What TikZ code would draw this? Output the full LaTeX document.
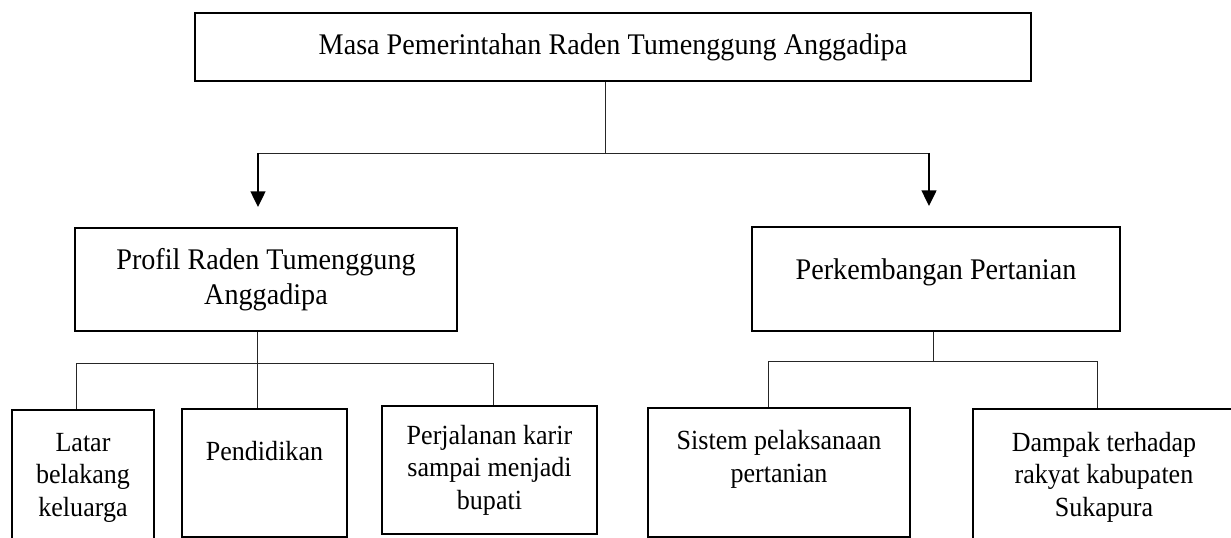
\documentclass[tikz,border=0pt]{standalone}
\usepackage{fontspec}
\setmainfont[FakeStretch=0.94]{Liberation Serif}
\usetikzlibrary{positioning, arrows.meta}

\begin{document}
\begin{tikzpicture}[
    x=0.025cm, y=-0.025cm,
    topbox/.style={rectangle, draw=black, line width=1.5pt, align=center, font=\fontsize{21.3}{25}\selectfont, inner sep=4pt},
    subbox/.style={rectangle, draw=black, line width=1.5pt, align=center, font=\fontsize{19.7}{23.1}\selectfont, inner sep=4pt},
    link/.style={draw=black!85, line width=0.7pt},
    arr/.style={-{Triangle[width=10.5pt, length=11pt]}, line width=1.3pt, draw=black, shorten >=0.5cm}
]
    \useasboundingbox (0,0) rectangle (1231,538);
    \clip (0,0) rectangle (1231,538);

    % top level
    \node[topbox, minimum width=20.9cm, minimum height=1.7cm] (root) at (613,47) {Masa Pemerintahan Raden Tumenggung Anggadipa};

    \node[topbox, minimum width=9.55cm, minimum height=2.575cm] (profil) at (266,279.5) {Profil Raden Tumenggung\\Anggadipa};
    \node[topbox, minimum width=9.2cm, minimum height=2.6cm, text depth=0.5cm] (tani) at (936,279) {Perkembangan Pertanian};

    % second level
    \node[subbox, minimum width=3.55cm, minimum height=3.375cm] (latar) at (83,477.5) {Latar\\belakang\\keluarga};
    \node[subbox, minimum width=4.125cm, minimum height=3.2cm] (didik) at (264.5,473) {Pendidikan\\[8pt]\mbox{}};
    \node[subbox, minimum width=5.375cm, minimum height=3.2cm] (karir) at (489.5,470) {Perjalanan karir\\sampai menjadi\\bupati};

    \node[subbox, minimum width=6.55cm, minimum height=3.225cm] (sistem) at (779,472.5) {Sistem pelaksanaan\\pertanian\\\mbox{}};
    \node[subbox, minimum width=6.55cm, minimum height=3.4cm] (dampak) at (1104,477) {Dampak terhadap\\rakyat kabupaten\\Sukapura};

    % junctions
    \coordinate (split) at (605,153);
    \coordinate (busL) at (257,363);
    \coordinate (busLa) at (76,363);
    \coordinate (busLc) at (493,363);
    \coordinate (busR) at (933,361);
    \coordinate (busRa) at (768,361);
    \coordinate (busRb) at (1097,361);

    \draw[link] (root.south -| split) -- (split);
    \draw[link] (split -| 258,0) -- (split -| 929,0);
    \draw[arr] (split -| 258,0) -- (profil.north -| 258,0);
    \draw[arr] (split -| 929,0) -- (tani.north -| 929,0);

    \draw[link] (profil.south -| busL) -- (busL);
    \draw[link] (latar.north -| busLa) -- (busLa) -- (busLc) -- (karir.north -| busLc);
    \draw[link] (busL) -- (didik.north -| busL);

    \draw[link] (tani.south -| busR) -- (busR);
    \draw[link] (sistem.north -| busRa) -- (busRa) -- (busRb) -- (dampak.north -| busRb);
\end{tikzpicture}
\end{document}
